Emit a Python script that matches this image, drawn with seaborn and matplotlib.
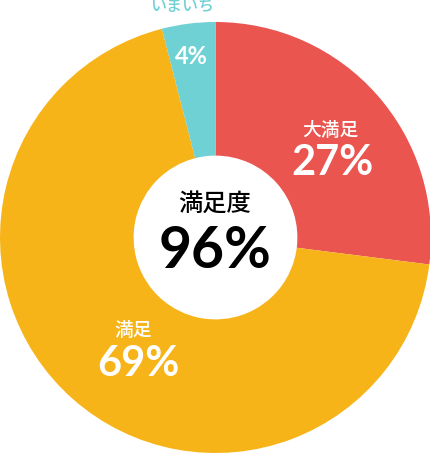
import matplotlib.pyplot as plt
import seaborn as sns

sns.set_theme(style="white")
plt.rcParams['font.family'] = ['Noto Sans CJK JP', 'DejaVu Sans']

categories = ['大満足', '満足', 'いまいち']
values = [27, 69, 4]
colors = ['#EA5550', '#F7B419', '#6FD1D4']
total_label = '満足度'
total_value = '96%'

W, H = 431, 453
fig = plt.figure(figsize=(W / 100, H / 100), dpi=100)
ax = fig.add_axes([0, 0, 1, 431 / 453])

ax.pie(values, colors=colors, startangle=90, counterclock=False, radius=1,
       wedgeprops=dict(width=0.62, edgecolor='none', linewidth=0))
ax.set_xlim(-1, 1)
ax.set_ylim(-1, 1)
ax.set_aspect('equal')
ax.axis('off')


def px(x, y):
    # convert picture pixels to data coords
    return (x - 215.5) / 215.5, (237.5 - y) / 215.5


num_font = ['Lato', 'Noto Sans CJK JP']

# 大満足
ax.text(*px(330, 130), categories[0], color='white', fontsize=13.5, fontweight='medium',
        ha='center', va='center')
ax.text(*px(333, 163), f'{values[0]}%', color='white', fontsize=30, fontweight='bold',
        ha='center', va='center', family=num_font)
# 満足
ax.text(*px(133, 331), categories[1], color='white', fontsize=13.5, fontweight='medium',
        ha='center', va='center')
ax.text(*px(138, 364), f'{values[1]}%', color='white', fontsize=30, fontweight='bold',
        ha='center', va='center', family=num_font)
# いまいち
ax.text(*px(182, 7), categories[2], color=colors[2], fontsize=11.5, fontweight='medium',
        ha='center', va='center', clip_on=False)
ax.text(*px(191, 56), f'{values[2]}%', color='white', fontsize=17, fontweight='bold',
        ha='center', va='center', family=num_font)

# center
ax.text(*px(215, 204), total_label, color='black', fontsize=17.5, fontweight='medium',
        ha='center', va='center')
ax.text(*px(215, 252), total_value, color='black', fontsize=41, fontweight='bold',
        ha='center', va='center', family=num_font)

fig.savefig('out.png', dpi=100, facecolor='white')
